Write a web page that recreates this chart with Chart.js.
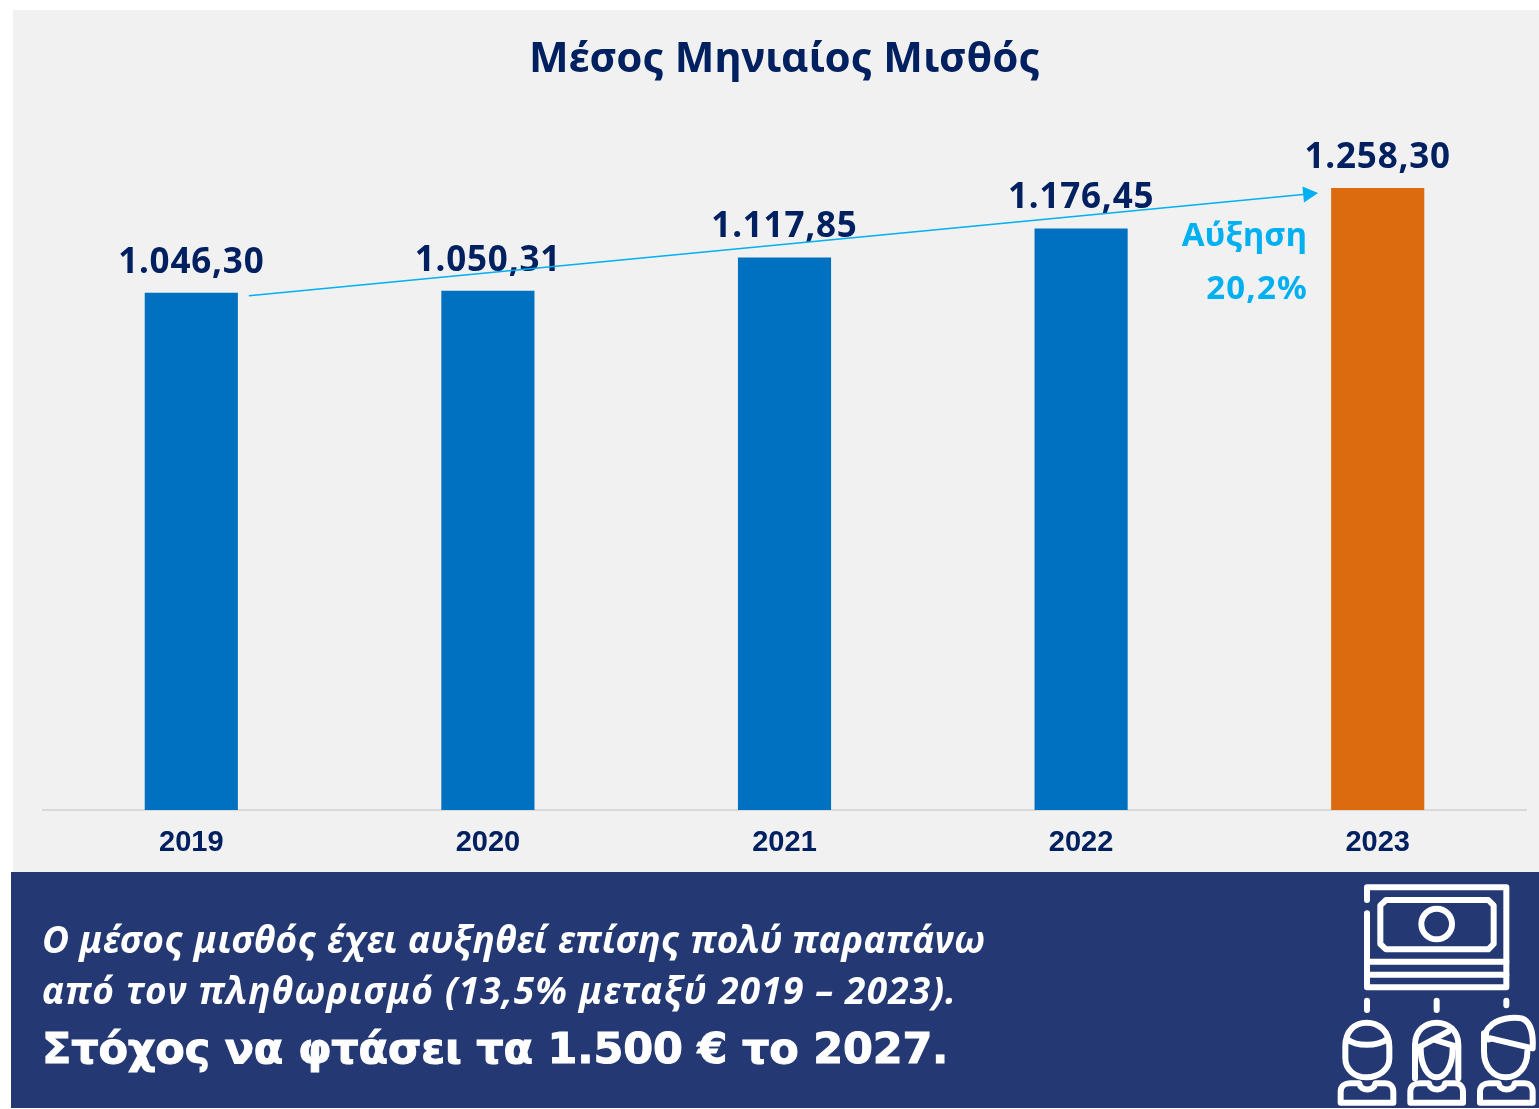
<!DOCTYPE html>
<html lang="el">
<head>
<meta charset="utf-8">
<title>Μέσος Μηνιαίος Μισθός</title>
<script src="https://cdn.jsdelivr.net/npm/chart.js@4"></script>
<style>
  html, body { margin: 0; padding: 0; background: #fff; }
  #page { position: relative; width: 1539px; height: 1109px; overflow: hidden; }
  #panel { position: absolute; left: 13px; top: 10px; width: 1526px; height: 862px; background: #f1f1f1; }
  #chart { position: absolute; left: 0; top: 0; }
  #title { position: absolute; left: 43px; width: 1483px; top: 28px; text-align: center;
           font: 700 42px "Noto Sans", sans-serif; color: #002060; line-height: 56px; }
  #banner { position: absolute; left: 11px; top: 872px; width: 1528px; height: 236px; background: #243874; }
  .say { position: absolute; left: 42px; color: #fff; white-space: nowrap; }
  .soft { font: italic 700 37px "Noto Sans", sans-serif; line-height: 50px; }
  .hard { font: 700 43px "DejaVu Sans", sans-serif; line-height: 60px; -webkit-text-stroke: 1px #fff; letter-spacing: -.2px; }
  #icon { position: absolute; left: 1300px; top: 870px; width: 239px; height: 239px; }
</style>
</head>
<body>
<div id="page">
  <div id="panel"></div>
  <div id="banner"></div>
  <canvas id="chart" width="1539" height="1109"></canvas>
  <div id="title">Μέσος Μηνιαίος Μισθός</div>
  <div class="say soft" style="top:914px;letter-spacing:.35px">Ο μέσος μισθός έχει αυξηθεί επίσης πολύ παραπάνω</div>
  <div class="say soft" style="top:965px;letter-spacing:1.2px">από τον πληθωρισμό (13,5% μεταξύ 2019 – 2023).</div>
  <div class="say hard" style="top:1018px">Στόχος να φτάσει τα 1.500 € το 2027.</div>
  <svg id="icon" viewBox="0 0 717 717" fill="none" stroke="#fff" stroke-width="18" stroke-linecap="round" stroke-linejoin="round">
    <path d="M201 90V52H619V352H201V130"/>
    <path d="M201 275H619M201 314H619"/>
    <path d="M258 90H565L581 106V222L565 238H258L241 222V106Z"/>
    <circle cx="410" cy="162" r="46"/>
    <path d="M201 392V420M410 392V420M619 392V406"/>
    <path d="M136 530C136 482 165 458 200 458C235 458 268 482 268 530V565C268 600 235 622 200 622C165 622 136 600 136 565Z"/>
    <path d="M142 508C170 530 230 530 262 508"/>
    <path d="M122 698V665C122 648 135 640 150 640H178C182 665 222 665 226 640H255C270 640 280 650 280 665V698Z"/>
    <path d="M345 625V525C345 482 375 458 410 458C445 458 475 482 475 525V625"/>
    <path d="M362 535C362 590 385 622 410 622C435 622 458 590 458 535"/>
    <path d="M350 535L445 484M405 510L470 530"/>
    <path d="M331 698V665C331 648 344 640 359 640H387C391 665 431 665 435 640H464C479 640 489 650 489 665V698Z"/>
    <path d="M570 470C590 445 640 440 665 445C695 455 700 500 698 535L572 505C556 520 552 480 570 470Z"/>
    <path d="M552 490V545C552 590 580 622 618 622C655 622 682 590 682 545"/>
    <path d="M540 698V665C540 648 553 640 568 640H596C600 665 640 665 644 640H673C688 640 698 650 698 665V698Z"/>
  </svg>
</div>

<script>
const years = ["2019", "2020", "2021", "2022", "2023"];
const salaries = [1046.30, 1050.31, 1117.85, 1176.45, 1258.30];
const valueLabels = ["1.046,30", "1.050,31", "1.117,85", "1.176,45", "1.258,30"];
const barColors = ["#0070c0", "#0070c0", "#0070c0", "#0070c0", "#dc6a0e"];
const growthLines = ["Αύξηση", "20,2%"];

// value labels, growth arrow and its caption sit on top of the bars
const overlay = {
  id: "overlay",
  afterDatasetsDraw(chart) {
    const { ctx, scales: { x, y } } = chart;
    const bars = chart.getDatasetMeta(0).data;

    ctx.save();
    ctx.fillStyle = "#002060";
    ctx.font = '700 35px "Noto Sans", sans-serif';
    ctx.letterSpacing = "0.8px";
    ctx.textAlign = "center";
    ctx.textBaseline = "alphabetic";
    valueLabels.forEach((text, i) => {
      ctx.fillText(text, x.getPixelForValue(i), y.getPixelForValue(salaries[i]) - 20);
    });
    ctx.restore();

    // arrow runs from the first bar to the last one
    ctx.save();
    const x0 = bars[0].x + bars[0].width / 2 + 11;
    const y0 = y.getPixelForValue(salaries[0]) + 3;
    const x1 = bars[4].x - bars[4].width / 2 - 13;
    const y1 = y.getPixelForValue(salaries[4]) + 5;
    const angle = Math.atan2(y1 - y0, x1 - x0);
    ctx.strokeStyle = "#00b0f0";
    ctx.fillStyle = "#00b0f0";
    ctx.lineWidth = 1.5;
    ctx.beginPath();
    ctx.moveTo(x0, y0);
    ctx.lineTo(x1 - 10, y1 + 1);
    ctx.stroke();
    ctx.translate(x1, y1);
    ctx.rotate(angle);
    ctx.beginPath();
    ctx.moveTo(0, 0);
    ctx.lineTo(-15, -8);
    ctx.lineTo(-15, 8);
    ctx.closePath();
    ctx.fill();
    ctx.restore();

    ctx.save();
    ctx.fillStyle = "#00b0f0";
    ctx.font = '700 33px "Noto Sans", sans-serif';
    ctx.textAlign = "right";
    ctx.fillText(growthLines[0], 1307, 246);
    ctx.letterSpacing = "1.2px";
    ctx.fillText(growthLines[1], 1308, 299);
    ctx.restore();
  }
};

new Chart(document.getElementById("chart"), {
  type: "bar",
  data: {
    labels: years,
    datasets: [{
      data: salaries,
      backgroundColor: barColors,
      categoryPercentage: 1,
      barPercentage: 0.314
    }]
  },
  options: {
    responsive: false,
    animation: false,
    layout: { padding: { left: 43, right: 13, top: 118, bottom: 0 } },
    plugins: { legend: { display: false }, tooltip: { enabled: false } },
    scales: {
      x: {
        afterFit(scale) { scale.height = 299; },
        grid: { display: false, drawTicks: false },
        border: { color: "#d9d9d9", width: 2 },
        ticks: {
          color: "#002060",
          padding: 16,
          font: { family: '"Liberation Sans", Arial, sans-serif', size: 29, weight: "700" }
        }
      },
      y: { display: false, min: 0, max: 1400 }
    }
  },
  plugins: [overlay]
});
</script>
</body>
</html>
